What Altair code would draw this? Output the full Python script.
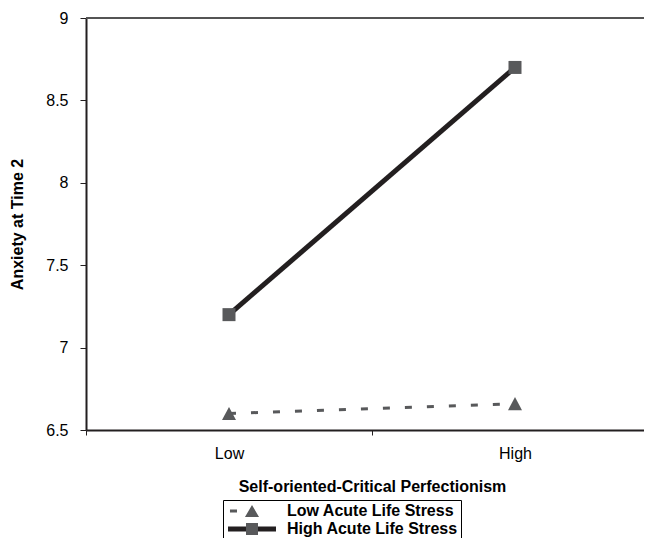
import altair as alt
import pandas as pd

categories = ["Low", "High"]
series_names = ["Low Acute Life Stress", "High Acute Life Stress"]
low_stress = [6.6, 6.66]
high_stress = [7.2, 8.7]

rows = []
for lvl, v in zip(categories, low_stress):
    rows.append({"level": lvl, "series": series_names[0], "value": v})
for lvl, v in zip(categories, high_stress):
    rows.append({"level": lvl, "series": series_names[1], "value": v})
df = pd.DataFrame(rows)

FONT = "Liberation Sans"
BLACK = "#231f20"
GRAY = "#58595b"
W, H = 558, 412
FULL_W = 572

x_enc = alt.X(
    "level:N",
    sort=categories,
    bandPosition=0.5,
    scale=alt.Scale(type="band", paddingInner=0, paddingOuter=0, range=[0, FULL_W]),
    axis=alt.Axis(
        title="Self-oriented-Critical Perfectionism",
        labelAngle=0,
        tickBand="extent",
        labelFontSize=16,
        labelColor="black",
        labelFont=FONT,
        labelPadding=10,
        titleFont=FONT,
        titleFontSize=16,
        titleFontWeight="bold",
        titleColor="black",
        titlePadding=17,
        titleX=FULL_W / 2,
        domainColor=BLACK,
        domainWidth=2,
        tickColor=BLACK,
        tickSize=5,
        tickWidth=1,
    ),
)
y_enc = alt.Y(
    "value:Q",
    scale=alt.Scale(domain=[6.5, 9], nice=False, zero=False),
    axis=alt.Axis(
        title="Anxiety at Time 2",
        values=[6.5, 7, 7.5, 8, 8.5, 9],
        format="~g",
        grid=False,
        labelFontSize=16,
        labelColor="black",
        labelFont=FONT,
        labelPadding=12,
        titleFont=FONT,
        titleFontSize=16,
        titleFontWeight="bold",
        titleColor="black",
        titlePadding=20,
        domainColor=BLACK,
        domainWidth=2,
        tickColor=BLACK,
        tickSize=6,
        tickWidth=1,
    ),
)

base = alt.Chart(df).encode(x=x_enc, y=y_enc)

top_border = alt.Chart(df).mark_rule(color="#555555", strokeWidth=1.5).encode(
    x=alt.value(0), x2=alt.value(FULL_W), y=alt.value(0)
)

line_high = base.transform_filter(alt.datum.series == series_names[1]).mark_line(
    color=BLACK, strokeWidth=5
)
line_low = base.transform_filter(alt.datum.series == series_names[0]).mark_line(
    color=GRAY, strokeWidth=3, strokeDash=[7, 15]
)
pts_low = base.transform_filter(alt.datum.series == series_names[0]).mark_point(
    filled=True, color=GRAY, opacity=1, size=196,
    shape="M-1,0.93L0,-0.93L1,0.93Z",
)
pts_high = base.transform_filter(alt.datum.series == series_names[1]).mark_point(
    filled=True, color=GRAY, opacity=1, size=169, shape="square"
)

# legend symbols (line parts: black) and (marker parts: gray)
black_paths = ["M0,0Z", "M-1,-0.42H7V0.42H-1Z"]
gray_paths = [
    "M-0.67,-0.25H0.5V0.25H-0.67Z M1.83,1L3,-1L4.17,1Z",
    "M2,-1H4V1H2Z",
]

legend_common = dict(
    title=None,
    orient="none",
    legendX=137,
    legendY=482,
    direction="vertical",
    labelFont=FONT,
    labelFontSize=16,
    labelFontWeight="bold",
    labelColor="black",
    labelOffset=45,
    labelLimit=400,
    symbolSize=144,
    symbolStrokeWidth=0,
    rowPadding=2,
    padding=3,
)

leg_black = base.transform_filter("false").mark_point(
    filled=True, color=BLACK, opacity=1
).encode(
    shape=alt.Shape(
        "series:N",
        scale=alt.Scale(domain=series_names, range=black_paths),
        legend=alt.Legend(strokeColor="black", **legend_common),
    )
)
leg_gray = base.transform_filter("false").mark_point(
    filled=True, color=GRAY, opacity=1
).encode(
    shape=alt.Shape(
        "series:N",
        scale=alt.Scale(domain=series_names, range=gray_paths),
        legend=alt.Legend(labelOpacity=0, **legend_common),
    )
)

chart = (
    alt.layer(top_border, line_high, line_low, pts_low, pts_high, leg_black, leg_gray)
    .resolve_scale(shape="independent")
    .properties(
        width=W,
        height=H,
        autosize=alt.AutoSizeParams(type="none"),
        padding={"left": 78, "top": 10, "right": 0, "bottom": 108},
    )
    .configure_view(stroke="transparent", strokeWidth=0)
    .configure(font=FONT)
)

chart.save("out.html", embed_options={"renderer": "svg", "actions": False})
